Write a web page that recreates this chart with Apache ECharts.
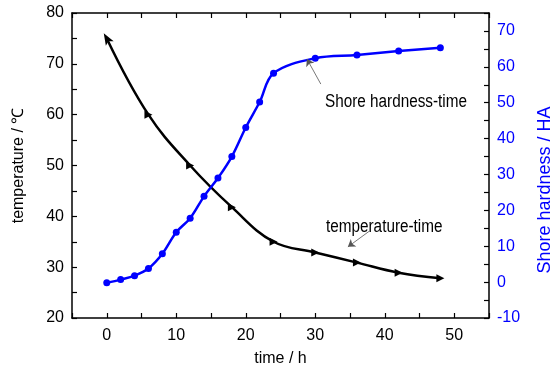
<!DOCTYPE html>
<html>
<head>
<meta charset="utf-8">
<script src="https://cdn.jsdelivr.net/npm/echarts@6/dist/echarts.min.js"></script>
<style>
  html, body { margin: 0; padding: 0; background: #fff; }
  #chart { width: 555px; height: 372px; }
</style>
</head>
<body>
<div id="chart"></div>
<script>
"use strict";

// temperature-time (left axis)
var tempTime = [0, 6, 12, 18, 24, 30, 36, 42, 48];
var tempValues = [75.0, 60, 50, 41.8, 35, 32.9, 30.9, 28.9, 27.8];

// Shore hardness-time (right axis)
var hardTime = [0, 2, 4, 6, 8, 10, 12, 14, 16, 18, 20, 22, 24, 30, 36, 42, 48];
var hardValues = [-0.2, 0.7, 1.8, 3.8, 7.9, 13.9, 17.8, 23.9, 29.0, 35.0, 43.1, 50.2, 58.2, 62.4, 63.3, 64.4, 65.3];

var font = '"Liberation Sans", Arial, sans-serif';
var blue = '#0000ff';

var chart = echarts.init(document.getElementById('chart'));

var tempData = tempTime.map(function (t, i) {
  var item = { value: [t, tempValues[i]] };
  if (i === 0) {
    // arrow head at the start of the curve, pointing up-left along the line
    item.symbol = 'path://M5,0 L10,13 L5,10 L0,13 Z';
    item.symbolRotate = 30;
    item.symbolSize = [9, 12];
  }
  return item;
});
var hardData = hardTime.map(function (t, i) { return [t, hardValues[i]]; });

function tenOnly(v) { return v % 10 === 0 ? v : ''; }

var axisLine = { show: true, onZero: false, lineStyle: { color: '#000', width: 1.5 } };
var axisTick = { inside: true, length: 5, lineStyle: { color: '#000', width: 1.2 } };

var option = {
  backgroundColor: '#ffffff',
  animation: false,
  grid: { left: 72, top: 13, right: 66, bottom: 49 },
  xAxis: [{
    type: 'value', min: -5, max: 55, interval: 5, position: 'bottom',
    name: 'time / h', nameLocation: 'middle', nameGap: 33,
    nameTextStyle: { fontFamily: font, fontSize: 16, color: '#000' },
    axisLine: axisLine,
    axisTick: axisTick,
    axisLabel: { formatter: tenOnly, fontFamily: font, fontSize: 16, color: '#000', margin: 10 },
    splitLine: { show: false }
  }, {
    type: 'value', min: -5, max: 55, interval: 5, position: 'top',
    axisLine: axisLine,
    axisTick: axisTick,
    axisLabel: { show: false },
    splitLine: { show: false }
  }],
  yAxis: [{
    type: 'value', min: 20, max: 80, interval: 5, position: 'left',
    name: 'temperature / \u2103', nameLocation: 'middle', nameGap: 45,
    nameTextStyle: { fontFamily: font, fontSize: 16, color: '#000' },
    axisLine: axisLine,
    axisTick: axisTick,
    axisLabel: { formatter: tenOnly, fontFamily: font, fontSize: 16, color: '#000', margin: 8 },
    splitLine: { show: false }
  }, {
    type: 'value', min: -10, max: 75, interval: 5, position: 'right',
    axisLine: axisLine,
    axisTick: axisTick,
    axisLabel: {
      formatter: function (v) { return (v % 10 === 0 && v <= 70) ? v : ''; },
      fontFamily: font, fontSize: 16, color: blue, margin: 8
    },
    splitLine: { show: false }
  }],
  series: [{
    name: 'temperature-time',
    type: 'line',
    yAxisIndex: 0,
    smooth: 0.4,
    data: tempData,
    symbol: 'triangle',
    symbolRotate: -90,
    symbolSize: 8,
    lineStyle: { color: '#000', width: 2.5 },
    itemStyle: { color: '#000' },
    markLine: {
      silent: true, symbol: ['none', 'arrow'], symbolSize: 7,
      lineStyle: { color: '#555', width: 0.8, type: 'solid' },
      label: { show: false },
      data: [[{ coord: [37.8, 37.1] }, { coord: [34.7, 34.0] }]]
    }
  }, {
    name: 'Shore hardness-time',
    type: 'line',
    yAxisIndex: 1,
    smooth: 0.35,
    data: hardData,
    symbol: 'circle',
    symbolSize: 7,
    lineStyle: { color: blue, width: 2.5 },
    itemStyle: { color: blue },
    markLine: {
      silent: true, symbol: ['none', 'arrow'], symbolSize: 7,
      lineStyle: { color: '#555', width: 0.8, type: 'solid' },
      label: { show: false },
      data: [[{ coord: [30.8, 55.2] }, { coord: [28.8, 62.2] }]]
    }
  }],
  graphic: [{
    type: 'text', x: 325, y: 102, scaleX: 0.85,
    style: { text: 'Shore hardness-time', font: '18px ' + font, fill: '#000', verticalAlign: 'middle' }
  }, {
    type: 'text', x: 326, y: 227, scaleX: 0.85,
    style: { text: 'temperature-time', font: '18px ' + font, fill: '#000', verticalAlign: 'middle' }
  }, {
    type: 'text', x: 545, y: 190, rotation: Math.PI / 2,
    style: { text: 'Shore hardness / HA', font: '18px ' + font, fill: blue, align: 'center', verticalAlign: 'middle' }
  }]
};

chart.setOption(option);
</script>
</body>
</html>
